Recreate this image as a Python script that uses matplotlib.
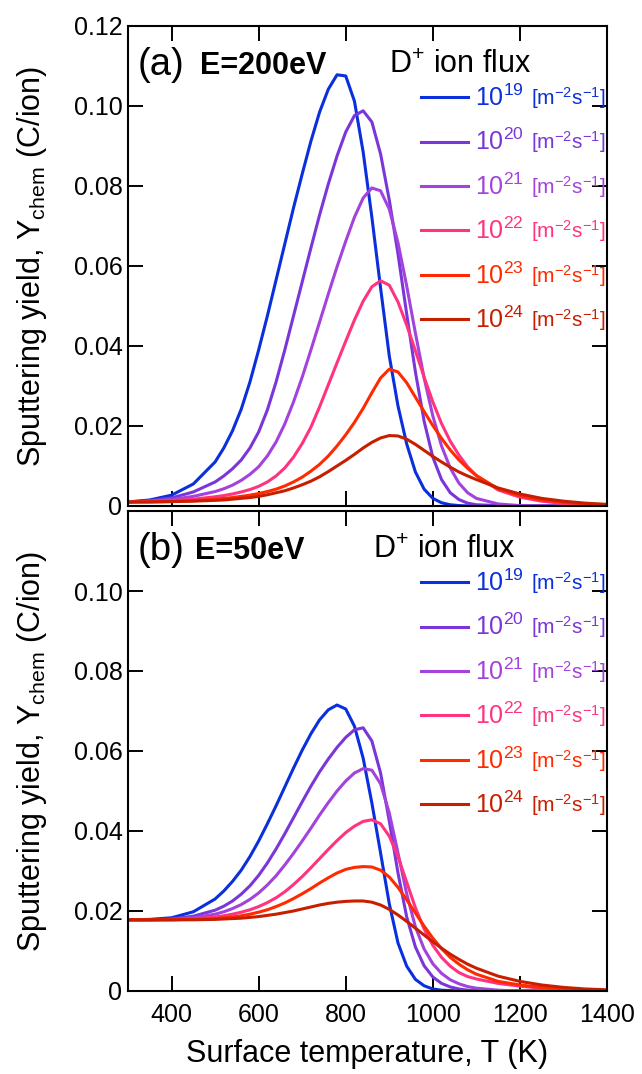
import numpy as np
import matplotlib
matplotlib.use("Agg")
import matplotlib.pyplot as plt

plt.rcParams['font.family'] = ['Liberation Sans', 'DejaVu Sans']
plt.rcParams['mathtext.fontset'] = 'custom'
plt.rcParams['mathtext.rm'] = 'Liberation Sans'
plt.rcParams['mathtext.it'] = 'Liberation Sans:italic'
plt.rcParams['mathtext.bf'] = 'Liberation Sans:bold'
plt.rcParams['mathtext.default'] = 'regular'

# surface temperature (K)
temps = [300, 350, 400, 450, 500, 520, 540, 560, 580, 600,
         620, 640, 660, 680, 700, 720, 740, 760, 780, 800,
         820, 840, 860, 880, 900, 920, 940, 960, 980, 1000,
         1020, 1040, 1060, 1080, 1100, 1150, 1200, 1250, 1300, 1350,
         1400]

flux_exp = [19, 20, 21, 22, 23, 24]
colors = ["#0a2fdc", "#7a36d9", "#a342dc", "#ff3380", "#ff2a00", "#c81e00"]

# (a) E = 200 eV
a19 = [0.0010, 0.0015, 0.0027, 0.0055, 0.0110, 0.0145, 0.0188, 0.0242, 0.0310, 0.0390,
       0.0475, 0.0565, 0.0655, 0.0745, 0.0830, 0.0912, 0.0985, 0.1042, 0.1078, 0.1075,
       0.1012, 0.0885, 0.0722, 0.0545, 0.0375, 0.0250, 0.0155, 0.0085, 0.0042, 0.0019,
       0.0008, 0.0003, 0.0001, 0, 0, 0, 0, 0, 0, 0,
       0]
a20 = [0.0010, 0.0013, 0.0020, 0.0035, 0.0060, 0.0075, 0.0093, 0.0115, 0.0145, 0.0185,
       0.0240, 0.0310, 0.0390, 0.0475, 0.0560, 0.0645, 0.0728, 0.0805, 0.0875, 0.0935,
       0.0976, 0.0988, 0.0960, 0.0880, 0.0765, 0.0630, 0.0480, 0.0335, 0.0212, 0.0122,
       0.0066, 0.0033, 0.0016, 0.0007, 0.0003, 0.0001, 0, 0, 0, 0,
       0]
a21 = [0.0010, 0.0012, 0.0016, 0.0024, 0.0036, 0.0043, 0.0052, 0.0064, 0.0079, 0.0098,
       0.0125, 0.0160, 0.0205, 0.0260, 0.0322, 0.0390, 0.0460, 0.0530, 0.0598, 0.0662,
       0.0722, 0.0770, 0.0795, 0.0788, 0.0742, 0.0658, 0.0550, 0.0432, 0.0320, 0.0225,
       0.0150, 0.0095, 0.0057, 0.0033, 0.0019, 0.0005, 0.0001, 0, 0, 0,
       0]
a22 = [0.0010, 0.0011, 0.0013, 0.0017, 0.0023, 0.0026, 0.0030, 0.0035, 0.0041, 0.0049,
       0.0060, 0.0075, 0.0095, 0.0122, 0.0156, 0.0197, 0.0248, 0.0303, 0.0358, 0.0412,
       0.0465, 0.0512, 0.0548, 0.0563, 0.0552, 0.0510, 0.0452, 0.0388, 0.0322, 0.0260,
       0.0206, 0.0162, 0.0127, 0.0098, 0.0076, 0.0040, 0.0022, 0.0012, 0.0006, 0.0003,
       0.0001]
a23 = [0.0010, 0.0010, 0.0011, 0.0013, 0.0017, 0.0019, 0.0021, 0.0024, 0.0027, 0.0031,
       0.0036, 0.0042, 0.0050, 0.0060, 0.0072, 0.0087, 0.0104, 0.0125, 0.0150, 0.0178,
       0.0209, 0.0244, 0.0283, 0.0320, 0.0342, 0.0335, 0.0308, 0.0272, 0.0236, 0.0201,
       0.0169, 0.0140, 0.0115, 0.0094, 0.0076, 0.0043, 0.0026, 0.0015, 0.0009, 0.0005,
       0.0003]
a24 = [0.0010, 0.0010, 0.0011, 0.0012, 0.0014, 0.0015, 0.0017, 0.0019, 0.0021, 0.0024,
       0.0028, 0.0033, 0.0038, 0.0045, 0.0053, 0.0062, 0.0073, 0.0086, 0.0100, 0.0114,
       0.0129, 0.0145, 0.0159, 0.0170, 0.0176, 0.0175, 0.0167, 0.0154, 0.0139, 0.0124,
       0.0110, 0.0097, 0.0085, 0.0075, 0.0066, 0.0045, 0.0030, 0.0019, 0.0012, 0.0007,
       0.0004]

# (b) E = 50 eV
b19 = [0.0178, 0.0179, 0.0183, 0.0198, 0.0230, 0.0250, 0.0274, 0.0302, 0.0336, 0.0375,
       0.0418, 0.0463, 0.0510, 0.0557, 0.0602, 0.0643, 0.0678, 0.0703, 0.0715, 0.0705,
       0.0662, 0.0582, 0.0470, 0.0345, 0.0218, 0.0120, 0.0062, 0.0029, 0.0013, 0.0005,
       0.0002, 0.0001, 0, 0, 0, 0, 0, 0, 0, 0,
       0]
b20 = [0.0178, 0.0178, 0.0180, 0.0187, 0.0202, 0.0212, 0.0225, 0.0242, 0.0263, 0.0289,
       0.0320, 0.0355, 0.0393, 0.0433, 0.0473, 0.0512, 0.0548, 0.0580, 0.0609, 0.0634,
       0.0653, 0.0658, 0.0625, 0.0545, 0.0425, 0.0295, 0.0185, 0.0110, 0.0063, 0.0035,
       0.0019, 0.0010, 0.0005, 0.0002, 0.0001, 0, 0, 0, 0, 0,
       0]
b21 = [0.0178, 0.0178, 0.0179, 0.0183, 0.0192, 0.0198, 0.0206, 0.0216, 0.0229, 0.0245,
       0.0265, 0.0288, 0.0315, 0.0344, 0.0375, 0.0407, 0.0440, 0.0471, 0.0500, 0.0525,
       0.0545, 0.0556, 0.0552, 0.0518, 0.0445, 0.0345, 0.0243, 0.0160, 0.0105, 0.0068,
       0.0044, 0.0028, 0.0018, 0.0011, 0.0007, 0.0002, 0, 0, 0, 0,
       0]
b22 = [0.0178, 0.0178, 0.0178, 0.0180, 0.0185, 0.0188, 0.0192, 0.0197, 0.0203, 0.0211,
       0.0221, 0.0233, 0.0248, 0.0266, 0.0286, 0.0308, 0.0331, 0.0354, 0.0376, 0.0396,
       0.0412, 0.0424, 0.0428, 0.0418, 0.0387, 0.0336, 0.0272, 0.0208, 0.0155, 0.0114,
       0.0084, 0.0062, 0.0046, 0.0036, 0.0030, 0.0019, 0.0012, 0.0007, 0.0004, 0.0002,
       0.0001]
b23 = [0.0178, 0.0178, 0.0178, 0.0179, 0.0181, 0.0183, 0.0185, 0.0188, 0.0192, 0.0197,
       0.0203, 0.0211, 0.0220, 0.0231, 0.0243, 0.0256, 0.0270, 0.0283, 0.0295, 0.0304,
       0.0309, 0.0311, 0.0310, 0.0302, 0.0285, 0.0259, 0.0228, 0.0195, 0.0162, 0.0132,
       0.0106, 0.0084, 0.0067, 0.0053, 0.0042, 0.0024, 0.0015, 0.0009, 0.0005, 0.0003,
       0.0001]
b24 = [0.0178, 0.0178, 0.0178, 0.0178, 0.0179, 0.0180, 0.0181, 0.0182, 0.0184, 0.0186,
       0.0189, 0.0192, 0.0196, 0.0200, 0.0205, 0.0210, 0.0215, 0.0219, 0.0222, 0.0224,
       0.0225, 0.0225, 0.0222, 0.0215, 0.0204, 0.0190, 0.0174, 0.0157, 0.0140, 0.0123,
       0.0107, 0.0092, 0.0079, 0.0067, 0.0057, 0.0037, 0.0024, 0.0015, 0.0009, 0.0005,
       0.0003]

panels = [
    ("(a)", "E=200eV", 0.150, [a19, a20, a21, a22, a23, a24],
     [0, 0.02, 0.04, 0.06, 0.08, 0.10, 0.12], 0.545),
    ("(b)", "E=50eV", 0.140, [b19, b20, b21, b22, b23, b24],
     [0, 0.02, 0.04, 0.06, 0.08, 0.10], 0.511),
]

fig = plt.figure(figsize=(6.42, 10.74), dpi=100)
ax_top = fig.add_axes([0.1994, 0.5289, 0.7461, 0.4469])
ax_bot = fig.add_axes([0.1994, 0.0773, 0.7461, 0.4469])

for ax, (tag, energy, energy_x, series, yticks, title_x) in zip([ax_top, ax_bot], panels):
    lines = []
    for ys, c in zip(series, colors):
        ln, = ax.plot(temps, ys, color=c, lw=2.2, solid_joinstyle='round')
        lines.append(ln)

    ax.set_xlim(300, 1400)
    ax.set_ylim(0, 0.12)
    ax.set_xticks([400, 600, 800, 1000, 1200, 1400])
    ax.set_yticks(yticks)
    ax.set_yticklabels(["0" if v == 0 else f"{v:.2f}" for v in yticks])
    ax.tick_params(direction='in', length=10.8, width=1.4, top=True, right=True,
                   labelsize=18, color='black')
    ax.tick_params(axis='y', pad=4)
    ax.tick_params(axis='x', pad=9)
    for s in ax.spines.values():
        s.set_linewidth(1.5)

    ax.set_ylabel(r"Sputtering yield, Y$_{\mathrm{chem}}$ (C/ion)", fontsize=22)
    ax.yaxis.set_label_coords(-0.165, 0.5)

    ax.text(0.021, 0.898, tag, transform=ax.transAxes, fontsize=27.5, va='baseline')
    ax.text(energy_x, 0.900, energy, transform=ax.transAxes, fontsize=22,
            fontweight='bold', va='baseline')
    ax.text(title_x, 0.903, r"D$^{+}$ ion flux", transform=ax.transAxes,
            fontsize=22, va='baseline')

    leg = ax.legend(lines, [f"$10^{{{e}}}$" for e in flux_exp], loc='upper left',
                    bbox_to_anchor=(0.612, 0.878), frameon=False, fontsize=18,
                    handlelength=1.88, handletextpad=0.28, labelspacing=0.72,
                    borderpad=0, borderaxespad=0, labelcolor='linecolor')
    for txt, c in zip(leg.get_texts(), colors):
        ax.annotate(r"[m$^{-2}$s$^{-1}$]", xy=(1, 0), xycoords=txt,
                    xytext=(5, 0), textcoords='offset points', ha='left',
                    va='bottom', fontsize=15, color=c, zorder=10)

ax_top.tick_params(labelbottom=False)
ax_bot.set_xlabel("Surface temperature, T (K)", fontsize=22, labelpad=8)

fig.savefig("out.png", dpi=100)
